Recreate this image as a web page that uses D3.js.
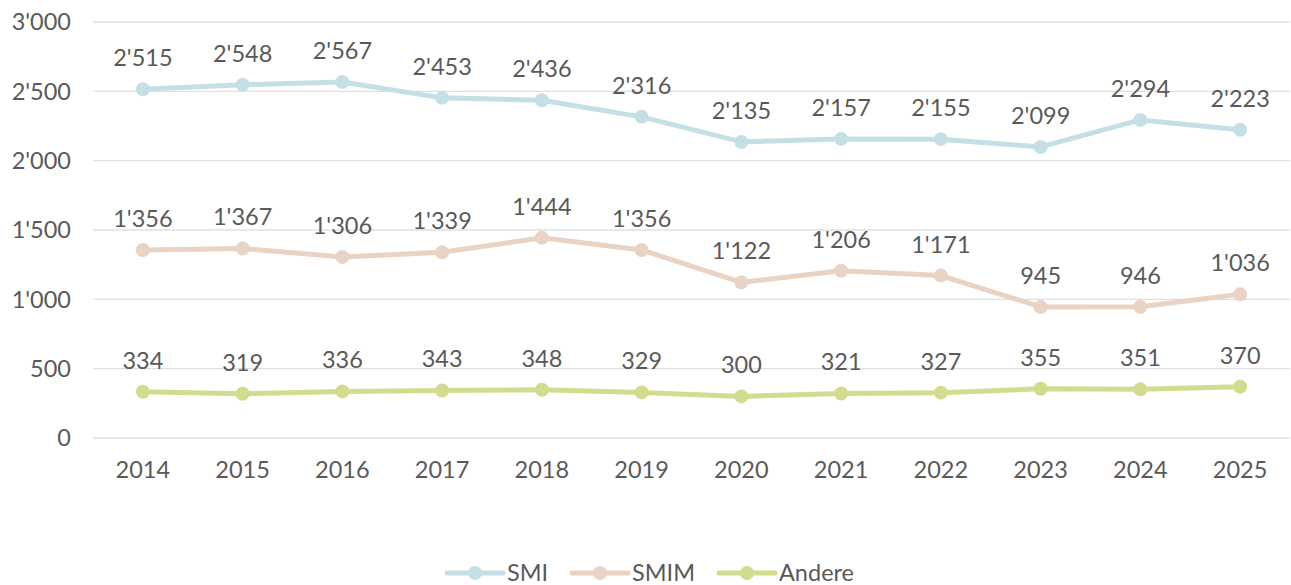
<!DOCTYPE html>
<html>
<head>
<meta charset="utf-8">
<script src="https://cdn.jsdelivr.net/npm/d3@7"></script>
<style>
  body { margin: 0; background: #fff; }
  text { font-family: Lato, "Open Sans", sans-serif; fill: #595959; font-weight: 400; }
</style>
</head>
<body>
<div id="chart"></div>
<script>
const years = ["2014","2015","2016","2017","2018","2019","2020","2021","2022","2023","2024","2025"];
const smi = [2515, 2548, 2567, 2453, 2436, 2316, 2135, 2157, 2155, 2099, 2294, 2223];
const smim = [1356, 1367, 1306, 1339, 1444, 1356, 1122, 1206, 1171, 945, 946, 1036];
const andere = [334, 319, 336, 343, 348, 329, 300, 321, 327, 355, 351, 370];
const yTicks = [0, 500, 1000, 1500, 2000, 2500, 3000];

const series = [
  { name: "SMI", values: smi, color: "#c4e0e6" },
  { name: "SMIM", values: smim, color: "#e8d3c4" },
  { name: "Andere", values: andere, color: "#d3dc8e" }
];

const W = 1291, H = 585;
const margin = { top: 22, right: 1, bottom: 147, left: 93 };
const width = W - margin.left - margin.right;
const height = H - margin.top - margin.bottom;
const fs = "23.5px";

const svg = d3.select("#chart").append("svg")
  .attr("width", W).attr("height", H);
const g = svg.append("g").attr("transform", `translate(${margin.left},${margin.top})`);

const x = d3.scaleBand().domain(years).range([0, width]);
const y = d3.scaleLinear().domain([0, 3000]).range([height, 0]);
const fmt = v => d3.format(",")(v).replace(/,/g, "'");

// gridlines
g.selectAll(".grid").data(yTicks).enter().append("line")
  .attr("x1", 0).attr("x2", width)
  .attr("y1", d => y(d)).attr("y2", d => y(d))
  .attr("stroke", "#e0e0e0").attr("stroke-width", 1.3);

// y labels
g.selectAll(".ylab").data(yTicks).enter().append("text")
  .attr("x", -22).attr("y", d => y(d)).attr("dy", "0.35em")
  .attr("text-anchor", "end").style("font-size", fs)
  .text(fmt);

// x labels
g.selectAll(".xlab").data(years).enter().append("text")
  .attr("x", d => x(d) + x.bandwidth() / 2).attr("y", height + 40)
  .attr("text-anchor", "middle").style("font-size", fs)
  .text(d => d);

const line = d3.line()
  .x((d, i) => x(years[i]) + x.bandwidth() / 2)
  .y(d => y(d));

series.forEach(s => {
  g.append("path").datum(s.values)
    .attr("d", line).attr("fill", "none")
    .attr("stroke", s.color).attr("stroke-width", 5)
    .attr("stroke-linejoin", "round").attr("stroke-linecap", "round");
  g.selectAll(null).data(s.values).enter().append("circle")
    .attr("cx", (d, i) => x(years[i]) + x.bandwidth() / 2)
    .attr("cy", d => y(d)).attr("r", 7)
    .attr("fill", s.color);
  g.selectAll(null).data(s.values).enter().append("text")
    .attr("x", (d, i) => x(years[i]) + x.bandwidth() / 2)
    .attr("y", d => y(d) - 23)
    .attr("text-anchor", "middle").style("font-size", fs)
    .text(fmt);
});

// legend
const legendX = [447, 572, 719];
const lg = svg.append("g").attr("transform", "translate(0,573)");
series.forEach((s, i) => {
  const item = lg.append("g").attr("transform", `translate(${legendX[i]},0)`);
  item.append("line").attr("x1", 0).attr("x2", 56).attr("y1", 0).attr("y2", 0)
    .attr("stroke", s.color).attr("stroke-width", 5).attr("stroke-linecap", "round");
  item.append("circle").attr("cx", 28).attr("cy", 0).attr("r", 7).attr("fill", s.color);
  item.append("text").attr("x", 60).attr("y", 0).attr("dy", "0.35em")
    .style("font-size", fs).text(s.name);
});
</script>
</body>
</html>
